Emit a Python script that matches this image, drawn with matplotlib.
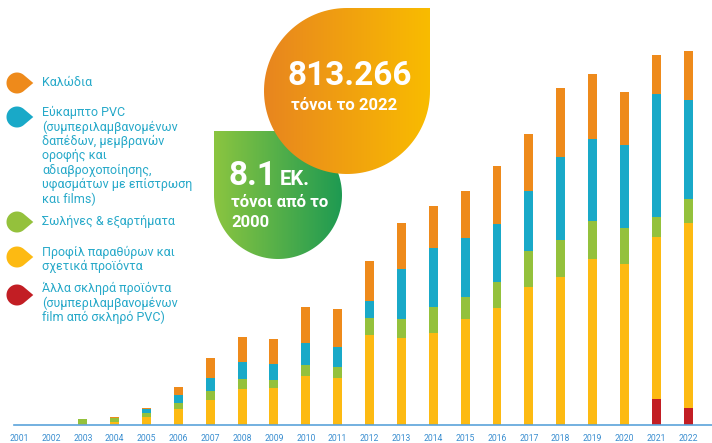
import numpy as np
import matplotlib
matplotlib.use("Agg")
import matplotlib.pyplot as plt
from matplotlib.path import Path
from matplotlib.patches import PathPatch
from matplotlib.colors import LinearSegmentedColormap

plt.rcParams['font.family'] = ['Roboto', 'DejaVu Sans']

# ---- data (thousand tonnes) ----
years = [str(y) for y in range(2001, 2023)]
other_rigid = [0, 0, 0, 0, 0, 0, 0, 0, 0, 0, 0, 0, 0, 0, 0, 0, 0, 0, 0, 0, 57, 37]
profiles = [0, 0, 3, 7, 17, 35, 54, 78, 81, 107, 103, 195, 190, 201, 230, 254, 299, 322, 360, 349, 352, 403]
pipes = [0, 0, 9, 9, 10, 12, 20, 22, 17, 23, 24, 38, 40, 55, 49, 57, 80, 81, 83, 80, 44, 51]
flexible = [0, 0, 0, 0, 7, 18, 29, 38, 35, 48, 43, 37, 109, 129, 128, 127, 130, 179, 179, 179, 267, 215]
cables = [0, 0, 0, 2, 3, 17, 43, 53, 53, 78, 83, 87, 100, 91, 102, 126, 124, 150, 141, 115, 85, 107]

series = [other_rigid, profiles, pipes, flexible, cables]
colors = ['#C21E24', '#FDBA12', '#94C13C', '#19A9C8', '#EE8A1B']

legend_labels = [
    'Καλώδια',
    'Εύκαμπτο PVC\n(συμπεριλαμβανομένων\nδαπέδων, μεμβρανών\nοροφής και\nαδιαβροχοποίησης,\nυφασμάτων με επίστρωση\nκαι films)',
    'Σωλήνες & εξαρτήματα',
    'Προφίλ παραθύρων και\nσχετικά προϊόντα',
    'Άλλα σκληρά προϊόντα\n(συμπεριλαμβανομένων\nfilm από σκληρό PVC)',
]
legend_colors = ['#EE8A1B', '#19A9C8', '#94C13C', '#FDBA12', '#C21E24']

W, H = 712, 443
fig = plt.figure(figsize=(W / 100, H / 100), dpi=100)

# ---- stacked bars ----
ax = fig.add_axes([14 / W, 18 / H, (W - 14) / W, 425 / H])
x = np.arange(len(years))
bottom = np.zeros(len(years))
for vals, col in zip(series, colors):
    ax.bar(x, vals, width=0.28, bottom=bottom, color=col, linewidth=0)
    bottom += np.array(vals)

total_last = bottom[-1]
ax.set_ylim(0, total_last * 425 / 374)
ax.set_xlim(-0.16, 21.75)
for s in ['top', 'right', 'left']:
    ax.spines[s].set_visible(False)
ax.spines['bottom'].set_color('#5BA3DA')
ax.spines['bottom'].set_linewidth(1.2)
ax.set_yticks([])
ax.set_xticks(x)
ax.set_xticklabels(years, fontsize=6.2, color='#3A8ED0')
ax.tick_params(axis='x', length=0, pad=6.5)

# ---- overlay in pixel coordinates ----
ov = fig.add_axes([0, 0, 1, 1])
ov.set_xlim(0, W)
ov.set_ylim(H, 0)
ov.axis('off')
ov.patch.set_alpha(0)


def legend_drop(cx, cy, r):
    t = np.radians(np.linspace(50, 310, 60))
    pts = np.column_stack([cx + r * np.cos(t), cy + r * np.sin(t)])
    pts = np.vstack([pts, [cx + r * 1.55, cy], pts[:1]])
    return Path(pts, closed=True)


def big_drop(cx, cy, r, corner):
    if corner == 'tr':
        t = np.radians(np.linspace(0, 270, 120))
        c = (cx + r, cy - r)
    else:
        t = np.radians(np.linspace(-90, 180, 120))
        c = (cx - r, cy - r)
    pts = np.column_stack([cx + r * np.cos(t), cy + r * np.sin(t)])
    pts = np.vstack([pts, c, pts[:1]])
    return Path(pts, closed=True)


def gradient_patch(path, c0, c1, extent):
    patch = PathPatch(path, facecolor='none', edgecolor='none')
    ov.add_patch(patch)
    cmap = LinearSegmentedColormap.from_list('g', [c0, c1])
    grad = np.linspace(0, 1, 256).reshape(1, -1)
    im = ov.imshow(grad, cmap=cmap, extent=extent, aspect='auto', interpolation='bicubic')
    im.set_clip_path(patch)


# legend
marker_y = [83, 117, 222, 257, 295]
text_y = [83, 113, 222, 253, 289]
for my, ty, lab, col in zip(marker_y, text_y, legend_labels, legend_colors):
    ov.add_patch(PathPatch(legend_drop(17, my, 10.5), facecolor=col, edgecolor='none'))
    ov.text(42, ty - 7, lab, fontsize=9, color='#27A9C9', va='top', ha='left',
            linespacing=1.12)

# green drop (behind), orange drop (front)
gradient_patch(big_drop(278, 195, 64, 'tl'), '#8BC540', '#1E9A52', (214, 342, 259, 131))
gradient_patch(big_drop(347, 91, 83, 'tr'), '#E8851F', '#F9BC00', (264, 430, 174, 8))

ov.text(350, 85, '813.266', fontsize=24, fontweight='bold', color='white',
        ha='center', va='baseline')
ov.text(344, 105, 'τόνοι το 2022', fontsize=12, fontweight='bold', color='white',
        ha='center', va='center')
ov.text(229, 185, '8.1', fontsize=24, fontweight='bold', color='white',
        ha='left', va='baseline')
ov.text(280, 185, 'ΕΚ.', fontsize=14.5, fontweight='bold', color='white',
        ha='left', va='baseline')
ov.text(231, 202, 'τόνοι από το', fontsize=12, fontweight='bold', color='white',
        ha='left', va='center')
ov.text(231, 222, '2000', fontsize=12, fontweight='bold', color='white',
        ha='left', va='center')

fig.savefig('out.png', dpi=100)
